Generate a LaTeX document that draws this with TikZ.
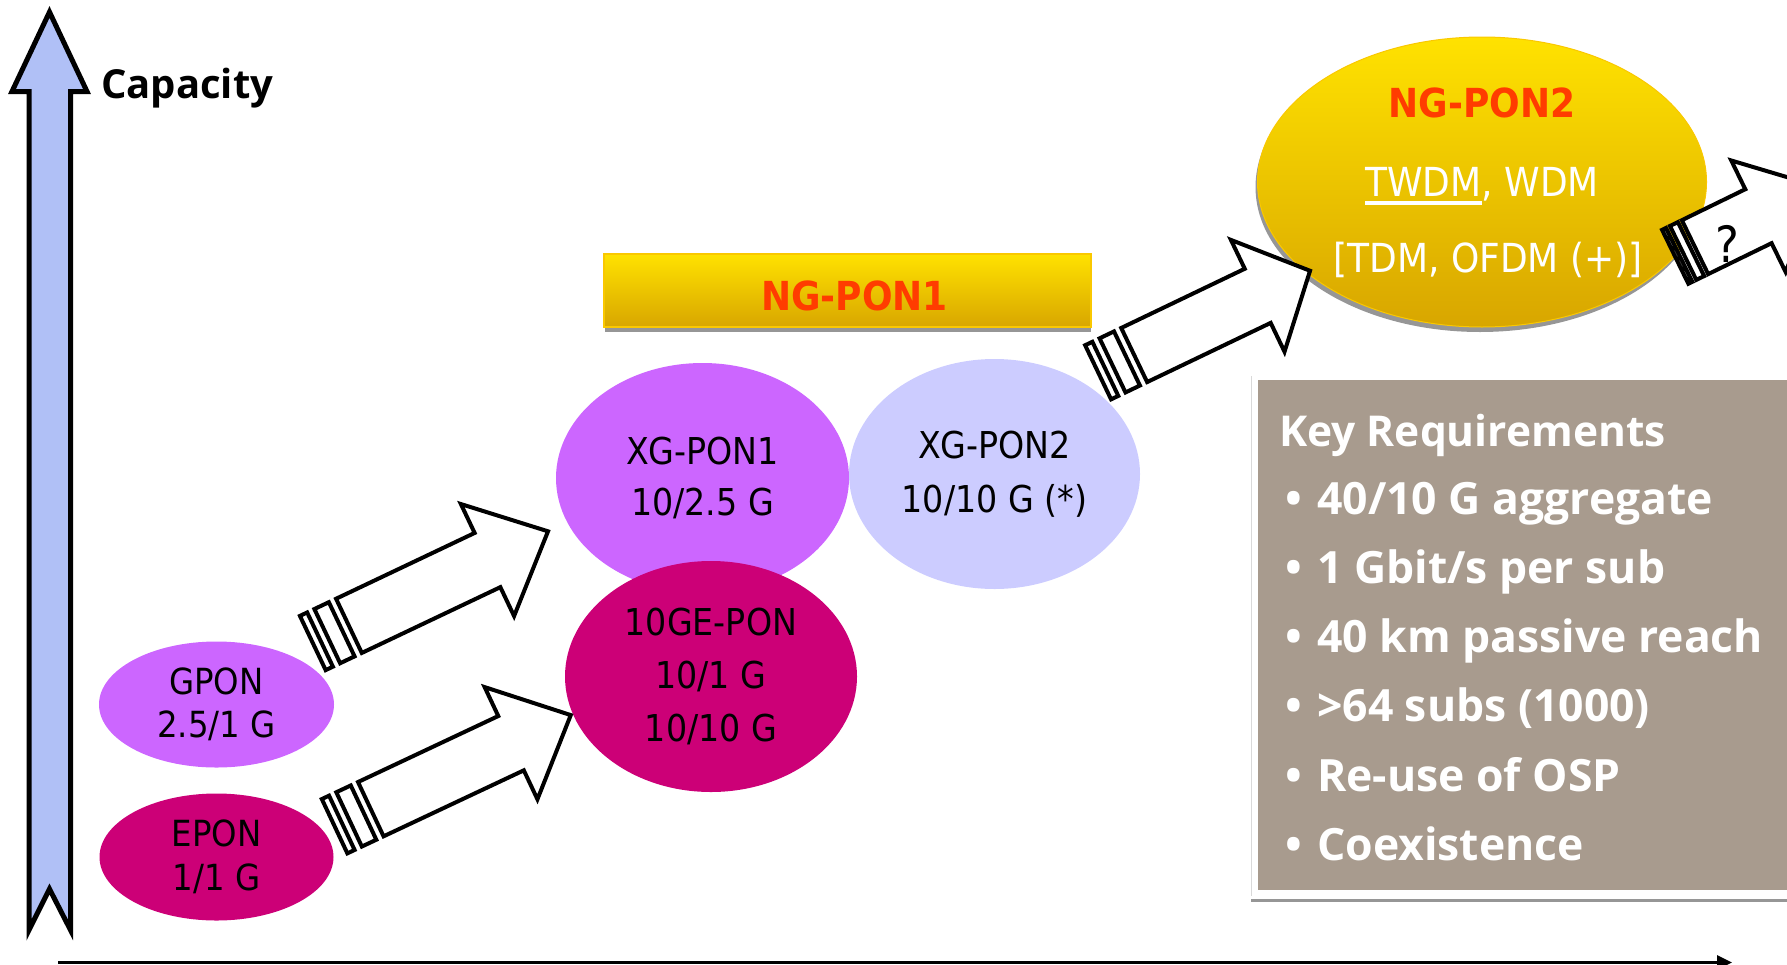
\documentclass[tikz,border=0pt]{standalone}
\usepackage{fontspec}
\setmainfont{DejaVu Sans Condensed}
\newfontfamily\opensans{Open Sans}
\usetikzlibrary{arrows.meta,shapes.geometric}

\definecolor{violetpon}{RGB}{204,102,255}
\definecolor{magpon}{RGB}{204,0,119}
\definecolor{lavpon}{RGB}{204,204,255}
\definecolor{ngred}{RGB}{255,60,0}
\definecolor{goldtop}{RGB}{255,226,0}
\definecolor{goldbot}{RGB}{216,166,0}
\definecolor{goldedge}{RGB}{250,200,0}
\definecolor{taupe}{RGB}{168,155,142}
\definecolor{capblue}{RGB}{176,192,246}
\definecolor{shadowgray}{RGB}{150,150,150}

% striped block arrow: origin, angle, stripe unit, shaft end, head end
\newcommand{\StripedArrow}[5]{%
  \begin{scope}[shift={(#1)},rotate=#2]
    \filldraw[blockarrow] (0,-30) rectangle (#3,30);
    \filldraw[blockarrow] ({2*#3},-30) rectangle ({4*#3},30);
    \filldraw[blockarrow] ({5*#3},-30) -- (#4,-30) -- (#4,-62) -- (#5,0)
      -- (#4,62) -- (#4,30) -- ({5*#3},30) -- cycle;
  \end{scope}}

\newcommand{\thickul}[1]{\setbox0=\hbox{#1}\rlap{\rule[-8.5pt]{\wd0}{3.3pt}}\box0}

\begin{document}
\begin{tikzpicture}[x=1pt,y=-1pt,
  ponellipse/.style={ellipse, inner sep=0pt, align=center, text=black},
  blockarrow/.style={draw=black, fill=white, line width=4pt, miter limit=10},
  keytxt/.style={anchor=base west, text=white, inner sep=0pt},
  ngtxt/.style={anchor=base, inner sep=0pt, font=\fontsize{40}{48}\selectfont}]
\useasboundingbox (0,0) rectangle (1787,964);
\clip (0,0) rectangle (1787,964);

% capacity axis
\filldraw[fill=capblue, draw=black, line width=5pt, miter limit=20]
  (49.5,12) -- (87,91.5) -- (70.5,91.5) -- (70.5,930) -- (49.5,889)
  -- (29,930) -- (29,91.5) -- (12,91.5) -- cycle;
\node[anchor=base west, inner sep=0pt, font=\opensans\bfseries\fontsize{40}{48}\selectfont]
  (captxt) at (101,98) {Capacity};

% time axis
\coordinate (xa0) at (58,962.5);
\coordinate (xa1) at (1732,962.5);
\draw[line width=3pt, -{Triangle[length=15pt,width=14pt]}] (xa0) -- (xa1);

% PON ellipses
\node[ponellipse, fill=violetpon, minimum width=235pt, minimum height=126pt,
  font=\fontsize{36}{43}\selectfont] (gpon) at (216.5,704.5) {GPON\\2.5/1 G};
\node[ponellipse, fill=magpon, minimum width=234pt, minimum height=127pt,
  font=\fontsize{36}{44}\selectfont] (epon) at (216.5,857) {EPON\\1/1 G};
\node[ponellipse, fill=violetpon, minimum width=293pt, minimum height=230pt,
  font=\fontsize{37}{51.5}\selectfont] (xgpon1) at (702.5,478) {XG-PON1\\10/2.5 G};
\node[ponellipse, fill=lavpon, minimum width=291pt, minimum height=230pt,
  font=\fontsize{37}{53.5}\selectfont] (xgpon2) at (994.5,474) {XG-PON2\\10/10 G (*)};
\node[ponellipse, fill=magpon, minimum width=292pt, minimum height=231pt,
  font=\fontsize{37}{53}\selectfont] (tengepon) at (711,676.5) {10GE-PON\\10/1 G\\10/10 G};

% NG-PON1 bar
\fill[shadowgray] (605,325) rectangle (1091,332);
\node[draw=goldedge, line width=1.5pt, top color=goldtop, bottom color=goldbot,
  minimum width=487pt, minimum height=73pt, inner sep=0pt] (ngpon1) at (847.5,290.5) {};
\node[inner sep=0pt, font=\bfseries\fontsize{40}{48}\selectfont, text=ngred]
  (ngpon1lbl) at (854.5,296) {NG-PON1};

% key requirements box
\draw[gray!30, line width=1pt] (1251,376) -- (1251,896);
\draw[shadowgray, line width=3pt] (1251,900.5) -- (1787,900.5);
\node[fill=taupe, anchor=north west, minimum width=540pt, minimum height=510pt,
  inner sep=0pt] (keybox) at (1258,380) {};
\node[keytxt, font=\opensans\bfseries\fontsize{42.5}{48}\selectfont] (kr0) at (1279,446) {Key Requirements};
\begin{scope}[every node/.append style={keytxt, font=\opensans\bfseries\fontsize{44.5}{50}\selectfont}]
\node (kr1) at (1285,514)   {\makebox[32pt][l]{•}40/10 G aggregate};
\node (kr2) at (1285,583.3) {\makebox[32pt][l]{•}1 Gbit/s per sub};
\node (kr3) at (1285,652.6) {\makebox[32pt][l]{•}40 km passive reach};
\node (kr4) at (1285,721.9) {\makebox[32pt][l]{•}>64 subs (1000)};
\node (kr5) at (1285,791.2) {\makebox[32pt][l]{•}Re-use of OSP};
\node (kr6) at (1285,860.5) {\makebox[32pt][l]{•}Coexistence};
\end{scope}

% NG-PON2 ellipse
\fill[shadowgray] (1480,187) ellipse [x radius=224.5, y radius=145];
\node[ellipse, draw=goldedge, line width=1pt, top color=goldtop, bottom color=goldbot,
  minimum width=449pt, minimum height=290pt, inner sep=0pt] (ngpon2) at (1482,182) {};
\node[ngtxt, font=\bfseries\fontsize{40}{48}\selectfont, text=ngred] (ng2title) at (1482,117) {NG-PON2};
\node[ngtxt, text=white] (ng2mux) at (1482,196) {\thickul{TWDM}, WDM};
\node[ngtxt, text=white] (ng2alt) at (1488,272) {[TDM, OFDM (+)]};

% evolution arrows
\StripedArrow{312.8,643}{25.4}{8}{193.4}{260.4}
\StripedArrow{334.6,826.2}{25.2}{8}{195}{261}
\StripedArrow{1098.1,372.3}{25.6}{8}{177}{235}
\StripedArrow{1675.2,256.8}{26}{4.4}{92.6}{160}
\node[inner sep=0pt, font=\fontsize{50}{56}\selectfont] (qmark) at (1727,244) {?};
\end{tikzpicture}
\end{document}
